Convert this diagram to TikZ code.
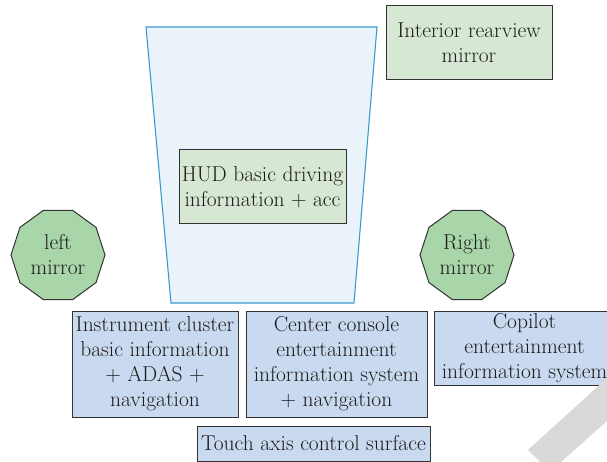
\documentclass[tikz,border=0pt]{standalone}
\usetikzlibrary{shapes.geometric}

\definecolor{ink}{RGB}{30,27,28}
\definecolor{boxline}{RGB}{51,51,51}
\definecolor{hudgreen}{RGB}{214,232,212}
\definecolor{mirrorgreen}{RGB}{168,214,168}
\definecolor{panelblue}{RGB}{201,218,240}
\definecolor{glassfill}{RGB}{235,243,250}
\definecolor{glassline}{RGB}{58,154,208}
\definecolor{stripe}{RGB}{217,217,217}

\tikzset{
  box/.style={draw=boxline, line width=1pt, inner sep=0pt, align=center,
    text=ink, font=\fontsize{21.5}{25}\selectfont},
  greenbox/.style={box, fill=hudgreen},
  bluebox/.style={box, fill=panelblue},
  mirror/.style={box, regular polygon, regular polygon sides=10,
    fill=mirrorgreen, minimum size=94pt},
}

\begin{document}
\begin{tikzpicture}[x=1pt, y=-1pt]
\clip (0, 0) rectangle (607, 462);

% windshield
\path (146, 27) coordinate (wtl) (377, 27) coordinate (wtr)
      (354, 303) coordinate (wbr) (171, 303) coordinate (wbl);
\draw [glassline, fill=glassfill, line width=1.1pt]
  (wtl) -- (wtr) -- (wbr) -- (wbl) -- cycle;

\node [greenbox, minimum width=167pt, minimum height=74pt] (hud) at (262.5, 187)
  {HUD basic driving\\information + acc};
\node [greenbox, minimum width=166pt, minimum height=74pt] (interior) at (469, 43)
  {Interior rearview\\mirror};

%%%%%%%%%%%%%%%%%%%%%%%%%%%%%%%%%%%%%%%%

\node [mirror] (lmirror) at (58, 255) {left\\mirror};
\node [mirror] (rmirror) at (467, 255) {Right\\mirror};

%%%%%%%%%%%%%%%%%%%%%%%%%%%%%%%%%%%%%%%%

\node [bluebox, minimum width=166pt, minimum height=106pt] (cluster) at (155, 364)
  {Instrument cluster\\basic information\\+ ADAS +\\navigation};
\node [bluebox, minimum width=181pt, minimum height=106pt] (console) at (336.5, 364)
  {Center console\\entertainment\\information system\\+ navigation};
\node [bluebox, minimum width=181pt, minimum height=74pt] (copilot) at (524.5, 348)
  {Copilot\\entertainment\\information system};
\node [bluebox, minimum width=233pt, minimum height=35pt] (touch) at (313.5, 443.5)
  {Touch axis control surface};

% grey band, lower right
\fill [stripe] (528, 450) -- (607, 378) -- (607, 421) -- (561, 462) -- (540, 462) -- cycle;
\end{tikzpicture}
\end{document}
